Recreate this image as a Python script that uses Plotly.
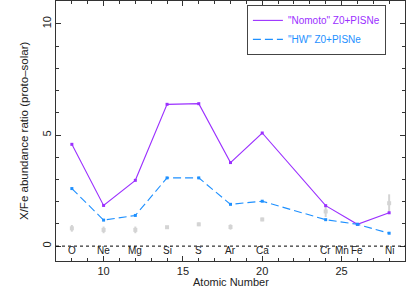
import plotly.graph_objects as go

elements = ["O", "Ne", "Mg", "Si", "S", "Ar", "Ca", "Cr", "Mn", "Fe", "Ni"]
element_z = [8, 10, 12, 14, 16, 18, 20, 24, 25, 26, 28]

model_z = [8, 10, 12, 14, 16, 18, 20, 24, 26, 28]
nomoto = [4.58, 1.83, 2.96, 6.38, 6.41, 3.76, 5.09, 1.82, 0.98, 1.50]
hw = [2.59, 1.17, 1.38, 3.07, 3.07, 1.88, 2.02, 1.19, 0.98, 0.58]

obs_z = [8, 10, 12, 14, 16, 18, 20, 24, 28]
obs = [0.80, 0.73, 0.73, 0.85, 0.98, 0.86, 1.20, 1.56, 1.93]
obs_err = [0.15, 0.15, 0.15, 0.05, 0.08, 0.12, 0.08, 0.25, 0.40]

PURPLE = "#9b30ff"
BLUE = "#1e90ff"
TXT = "#222"
FONT = "Liberation Sans, Arial, sans-serif"

fig = go.Figure()
fig.add_trace(go.Scatter(
    x=obs_z, y=obs, mode="markers", showlegend=False,
    marker=dict(symbol="square", size=4, color="#d4d4d4"),
    error_y=dict(type="data", array=obs_err, color="#d4d4d4", thickness=2, width=0),
))
# lines (shown in legend)
fig.add_trace(go.Scatter(
    x=model_z, y=nomoto, mode="lines",
    name='<span style="color:%s">"Nomoto" Z0+PISNe</span>' % PURPLE,
    line=dict(color=PURPLE, width=1.1),
))
fig.add_trace(go.Scatter(
    x=model_z, y=hw, mode="lines",
    name='<span style="color:%s">"HW" Z0+PISNe</span>' % BLUE,
    line=dict(color=BLUE, width=1.1, dash="8px,4px"),
))
# markers (not in legend)
fig.add_trace(go.Scatter(
    x=model_z, y=nomoto, mode="markers", showlegend=False,
    marker=dict(symbol="square", size=3, color=PURPLE),
))
fig.add_trace(go.Scatter(
    x=model_z, y=hw, mode="markers", showlegend=False,
    marker=dict(symbol="square", size=3, color=BLUE),
))

fig.add_shape(type="line", xref="paper", x0=0, x1=1, yref="y", y0=0, y1=0,
              line=dict(color="black", width=1, dash="dot"))

for name, z in zip(elements, element_z):
    fig.add_annotation(x=z, y=-0.2, text=name, showarrow=False,
                       font=dict(size=10, color=TXT, family=FONT),
                       xanchor="center", yanchor="middle")

# axis titles
fig.add_annotation(x=0.5, y=0, xref="paper", yref="paper", text="Atomic Number",
                   showarrow=False, xanchor="center", yanchor="top", yshift=-13,
                   font=dict(size=11, color=TXT, family=FONT))
fig.add_annotation(x=0, y=0.5, xref="paper", yref="paper",
                   text="X/Fe abundance ratio (proto\u2013solar)", textangle=-90,
                   showarrow=False, xanchor="center", yanchor="middle", xshift=-32,
                   font=dict(size=11.5, color=TXT, family=FONT))

axis_common = dict(
    showgrid=False, zeroline=False, showline=True, linecolor="#333", linewidth=1,
    mirror="allticks", ticks="inside", ticklen=5, tickcolor="#333",
    tickfont=dict(size=11, family=FONT, color=TXT), automargin=False,
)
fig.update_xaxes(range=[7, 29], tickvals=[10, 15, 20, 25],
                 minor=dict(dtick=1, tick0=0, ticks="inside", ticklen=3, tickcolor="#333"),
                 **axis_common)
fig.update_yaxes(range=[-0.67, 11.03], tickvals=[0, 5, 10], tickangle=-90,
                 minor=dict(dtick=1, tick0=0, ticks="inside", ticklen=3, tickcolor="#333"),
                 **axis_common)

fig.update_layout(
    width=407, height=287,
    margin=dict(l=56, r=2, t=1, b=26, autoexpand=False),
    plot_bgcolor="white", paper_bgcolor="white",
    font=dict(family=FONT, size=10),
    legend=dict(x=0.547, y=0.985, xanchor="left", yanchor="top",
                bordercolor="#444", borderwidth=1, bgcolor="white",
                font=dict(size=10, family=FONT), itemwidth=30,
                tracegroupgap=0),
)

fig.write_html("out.html", config={"displayModeBar": False},
               post_script="document.body.style.margin='0';document.body.style.overflow='hidden';")
